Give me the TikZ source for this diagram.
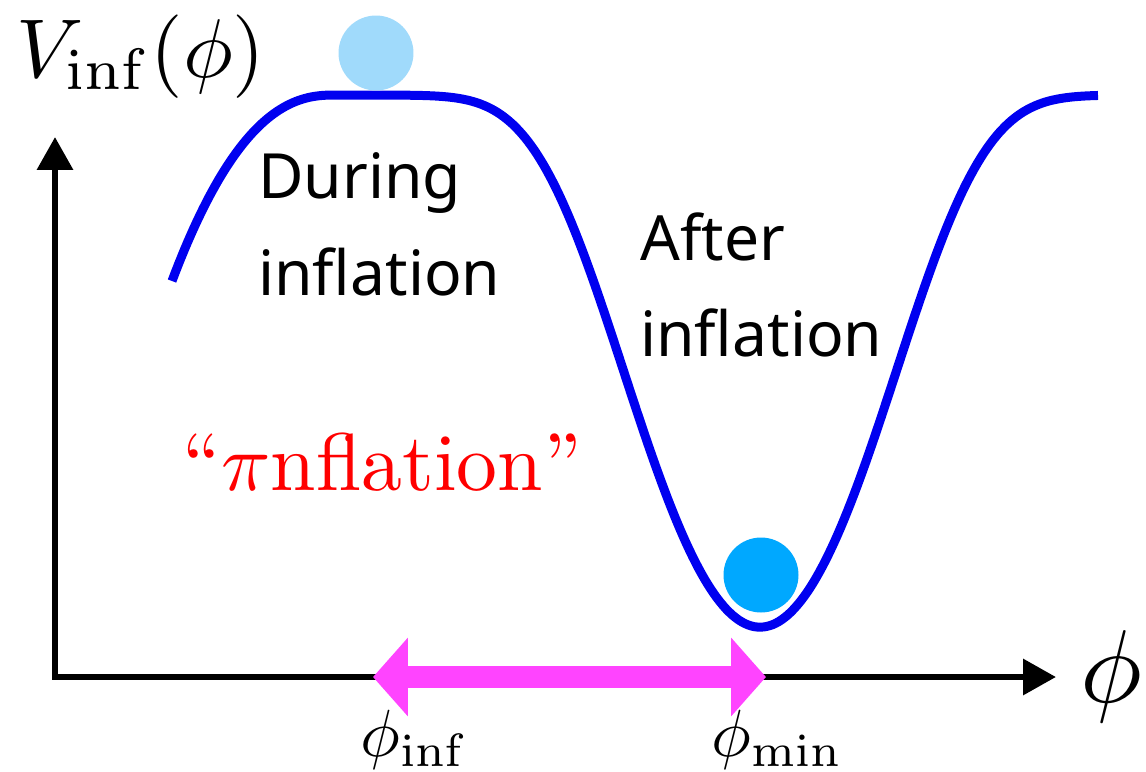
\documentclass[tikz,border=0pt]{standalone}
\usepackage[no-math]{fontspec}
\newfontfamily\labelfont{Noto Sans}
\usetikzlibrary{arrows.meta}
\definecolor{curveblue}{RGB}{0,0,240}
\definecolor{balllight}{RGB}{160,218,251}
\definecolor{balldark}{RGB}{0,168,255}
\definecolor{pinkarrow}{RGB}{255,68,255}
\definecolor{pired}{RGB}{255,0,0}
\begin{document}
\begin{tikzpicture}[x=0.02cm,y=-0.02cm,
  sanslabel/.style={font=\labelfont\fontsize{35.5}{42}\selectfont, inner sep=0pt, anchor=base west},
  mathlabel/.style={inner sep=0pt, anchor=base west},
  ball/.style={circle, minimum size=1.5cm, inner sep=0pt},
  axisline/.style={line width=0.13cm, {Triangle[length=0.66cm,width=0.7cm]}-{Triangle[length=0.66cm,width=0.7cm]}},
  rangearrow/.style={pinkarrow, line width=0.44cm, {Triangle[length=0.7cm,width=1.54cm]}-{Triangle[length=0.7cm,width=1.54cm]}},
  potential/.style={curveblue, line width=0.18cm},
  declare function={
    uw(\t)=min(pow((\t-760)/182.6,2)+pow((\t-760)/243.4,4),9);
    lw(\t)=62.2*pow(max(333-\t,5)/100,2.3);
    vpot(\t)=95+532*exp(0-uw(\t))+lw(\t);
  }]
\useasboundingbox (0,0) rectangle (1146,771);
% axes
\coordinate (ytip) at (55,137);
\coordinate (origin) at (55,677);
\coordinate (xtip) at (1056,677);
\draw[axisline] (ytip) -- (origin) -- (xtip);
% potential curve
\draw[potential] plot[domain=172:1098, samples=300] (\x, {vpot(\x)});
% balls
\node[ball, fill=balllight] (topball) at (376,53) {};
\node[ball, fill=balldark] (bottomball) at (761,575) {};
% range arrow
\coordinate (phiinfpt) at (373,677);
\coordinate (phiminpt) at (766,677);
\draw[rangearrow] (phiinfpt) -- (phiminpt);
% labels
\node[mathlabel, scale=4.75] (vlabel) at (15,77) {$V_{\rm inf}(\phi)$};
\node[mathlabel, scale=5.9] (philabel) at (1078,702) {$\phi$};
\node[mathlabel, scale=3.8] (phiinf) at (359,756) {$\phi_{\rm inf}$};
\node[mathlabel, scale=3.8] (phimin) at (710,756) {$\phi_{\rm min}$};
\node[sanslabel] (during) at (258,198) {During};
\node[sanslabel] (duringinf) at (258,295) {inflation};
\node[sanslabel] (after) at (640,260) {After};
\node[sanslabel] (afterinf) at (640,356) {inflation};
\node[mathlabel, text=pired, scale=4.65] (pinflation) at (181,490) {``$\pi$nflation''};
\end{tikzpicture}
\end{document}
